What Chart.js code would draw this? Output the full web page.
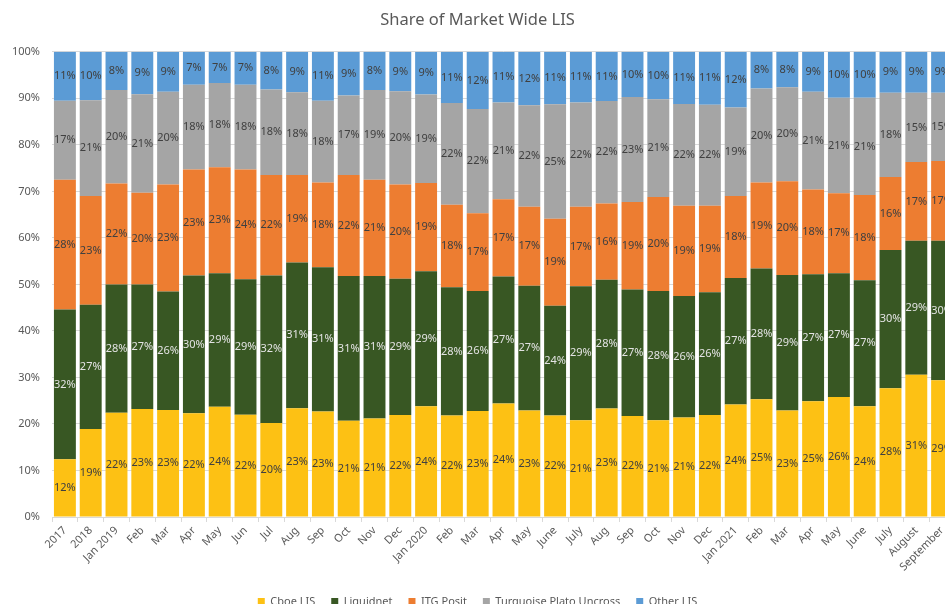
<!DOCTYPE html>
<html>
<head>
<meta charset="utf-8">
<script src="https://cdn.jsdelivr.net/npm/chart.js@4"></script>
<style>
html,body{margin:0;padding:0;background:#fff;}
body{width:945px;height:604px;overflow:hidden;position:relative;}
#wrap{position:absolute;left:0;top:0;width:980px;height:617px;}
</style>
</head>
<body>
<div id="wrap"><canvas id="c" width="980" height="617"></canvas></div>
<script>
const categories = ['2017','2018','Jan 2019','Feb','Mar','Apr','May','Jun','Jul','Aug','Sep','Oct','Nov','Dec',
  'Jan 2020','Feb','Mar','Apr','May','June','July','Aug','Sep','Oct','Nov','Dec',
  'Jan 2021','Feb','Mar','Apr','May','June','July','August','September'];
const cboe = [12.4,18.9,22.4,23.2,23.0,22.3,23.7,22.0,20.2,23.4,22.7,20.7,21.2,21.9,23.8,21.8,22.8,24.4,22.9,21.8,20.8,23.3,21.7,20.8,21.4,21.9,24.2,25.3,22.9,24.9,25.8,23.8,27.7,30.6,29.4];
const liquidnet = [32.2,26.7,27.6,26.8,25.5,29.6,28.7,29.1,31.7,31.3,31.0,31.1,30.6,29.3,29.0,27.6,25.8,27.3,26.8,23.6,28.8,27.7,27.2,27.8,26.1,26.4,27.2,28.1,29.1,27.3,26.6,27.1,29.7,28.8,30.0];
const itgPosit = [27.9,23.4,21.7,19.7,23.0,22.8,22.8,23.6,21.6,18.8,18.2,21.7,20.7,20.3,19.0,17.7,16.7,16.6,17.0,18.7,17.1,16.4,18.8,20.2,19.4,18.6,17.6,18.5,20.2,18.2,17.2,18.3,15.7,16.9,17.1];
const turquoise = [17.0,20.6,20.1,21.2,19.9,18.2,18.1,18.2,18.4,17.8,17.6,17.1,19.3,20.0,19.0,21.9,22.4,20.8,21.8,24.6,22.4,22.0,22.6,21.0,21.9,21.7,19.0,20.2,20.2,21.0,20.5,20.9,18.1,14.9,14.7];
const otherLis = [10.5,10.4,8.2,9.1,8.6,7.1,6.7,7.1,8.1,8.7,10.5,9.4,8.2,8.5,9.2,11.0,12.3,10.9,11.5,11.3,10.9,10.6,9.7,10.2,11.2,11.4,12.0,7.9,7.6,8.6,9.9,9.9,8.8,8.8,8.8];
const yTicks = [0,10,20,30,40,50,60,70,80,90,100];

const FONT = '"Noto Sans", sans-serif';
const series = [
  {label:'Cboe LIS', data:cboe, color:'#FDC114', text:'#404040'},
  {label:'Liquidnet', data:liquidnet, color:'#385723', text:'#E3E3E3'},
  {label:'ITG Posit', data:itgPosit, color:'#ED7D31', text:'#404040'},
  {label:'Turquoise Plato Uncross', data:turquoise, color:'#A5A5A5', text:'#404040'},
  {label:'Other LIS', data:otherLis, color:'#5B9BD5', text:'#404040'}
];

const labelPlugin = {
  id:'segLabels',
  afterDatasetsDraw(chart){
    const ctx = chart.ctx;
    ctx.save();
    ctx.font = '11px ' + FONT;
    ctx.textAlign = 'center';
    ctx.textBaseline = 'middle';
    chart.data.datasets.forEach((ds, i) => {
      const meta = chart.getDatasetMeta(i);
      meta.data.forEach((el, j) => {
        const v = ds.data[j];
        ctx.fillStyle = series[i].text;
        ctx.fillText(Math.round(v) + '%', el.x, (el.y + el.base) / 2);
      });
    });
    ctx.restore();
  }
};

new Chart(document.getElementById('c'), {
  type:'bar',
  data:{
    labels:categories,
    datasets:series.map(s => ({label:s.label, data:s.data, backgroundColor:s.color, borderWidth:0,
      categoryPercentage:1.0, barPercentage:0.85}))
  },
  options:{
    responsive:false,
    animation:false,
    devicePixelRatio:1,
    layout:{padding:{left:0,right:25,top:10,bottom:0}},
    plugins:{
      title:{display:true, text:'Share of Market Wide LIS', color:'#595959',
        font:{family:FONT, size:16.5, weight:'normal'}, padding:{top:0,bottom:22}},
      legend:{position:'bottom',
        labels:{boxWidth:7, boxHeight:7, padding:16, color:'#595959', font:{family:FONT, size:11}}},
      tooltip:{enabled:false}
    },
    scales:{
      x:{stacked:true,
        grid:{offset:true, drawOnChartArea:false, drawTicks:true, tickLength:5, color:'#D9D9D9'},
        border:{color:'#D9D9D9'},
        ticks:{autoSkip:false, maxRotation:45, minRotation:45, color:'#595959', font:{family:FONT, size:11}, padding:2},
        afterFit(s){ s.height = 63; }
      },
      y:{stacked:true, min:0, max:100,
        afterBuildTicks(s){ s.ticks = yTicks.map(v => ({value:v})); },
        grid:{color:'#D9D9D9', drawTicks:false},
        border:{display:false},
        ticks:{color:'#595959', padding:12, font:{family:FONT, size:11}, callback:v => v + '%'},
        afterFit(s){ s.width = 52; }
      }
    }
  },
  plugins:[labelPlugin]
});
</script>
</body>
</html>
